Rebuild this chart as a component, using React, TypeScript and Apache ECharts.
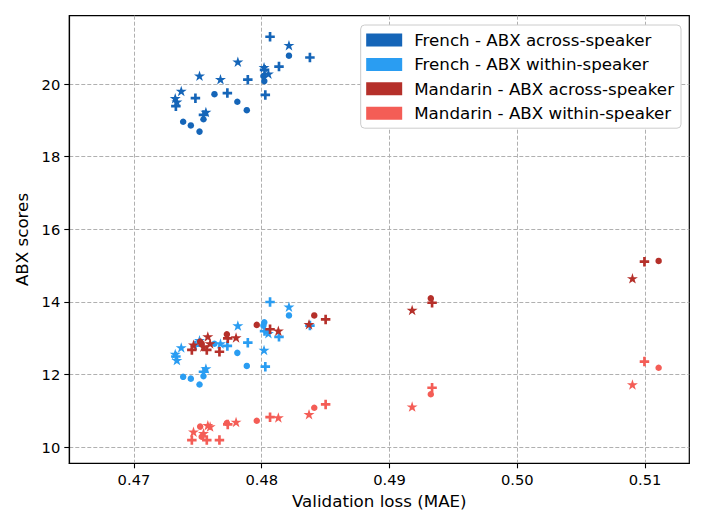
import React, { useEffect, useRef } from "react";
import * as echarts from "echarts";

const seriesNames = [
  "French - ABX across-speaker",
  "French - ABX within-speaker",
  "Mandarin - ABX across-speaker",
  "Mandarin - ABX within-speaker",
];
const seriesColors = ["#1565B8", "#2A9DF2", "#B5302A", "#F45D56"];

// French models: validation loss, marker shape (c = circle, s = star, p = plus), ABX scores
const frenchLoss = [
  0.47385, 0.47445, 0.47513, 0.47544, 0.4763, 0.47809, 0.47883, 0.48213, 0.4802, 0.48013,
  0.47323, 0.47336, 0.4737, 0.47513, 0.47563, 0.47677, 0.47813, 0.48018, 0.48052, 0.48213,
  0.47328, 0.47481, 0.47544, 0.47731, 0.47891, 0.48028, 0.48065, 0.48135, 0.48377, 0.48022,
];
const frenchShape = [
  "c", "c", "c", "c", "c", "c", "c", "c", "c", "c",
  "s", "s", "s", "s", "s", "s", "s", "s", "s", "s",
  "p", "p", "p", "p", "p", "p", "p", "p", "p", "p",
];
const frenchAcross = [
  18.96, 18.86, 18.69, 19.03, 19.72, 19.51, 19.28, 20.78, 20.08, 20.22,
  19.61, 19.51, 19.81, 20.23, 19.23, 20.13, 20.61, 20.46, 20.28, 21.07,
  19.39, 19.61, 19.15, 19.75, 20.12, 19.7, 21.3, 20.48, 20.73, 20.39,
];
const frenchWithin = [
  11.94, 11.89, 11.73, 11.96, 12.85, 12.6, 12.24, 13.63, 13.44, 13.35,
  12.57, 12.4, 12.75, 12.95, 12.17, 12.86, 13.35, 12.68, 13.14, 13.87,
  12.5, 12.8, 12.08, 12.79, 12.88, 12.22, 14.0, 13.04, 13.35, 13.2,
];

// Mandarin models
const mandarinLoss = [
  0.51106, 0.50995, 0.50901, 0.49323, 0.49333, 0.49177, 0.48411, 0.485, 0.4837, 0.47961,
  0.48065, 0.4813, 0.47799, 0.47727, 0.47734, 0.47669, 0.47578, 0.47596, 0.47466, 0.47544,
  0.4757, 0.47453, 0.47518, 0.4753,
];
const mandarinShape = [
  "c", "p", "s", "c", "p", "s", "c", "p", "s", "c",
  "p", "s", "s", "c", "p", "p", "s", "s", "s", "s",
  "p", "p", "c", "c",
];
const mandarinAcross = [
  15.13, 15.11, 14.65, 14.1, 13.98, 13.78, 13.63, 13.52, 13.39, 13.37,
  13.25, 13.21, 13.02, 13.11, 13.0, 12.63, 13.05, 12.86, 12.82, 12.77,
  12.68, 12.68, 12.91, 12.85,
];
const mandarinWithin = [
  12.19, 12.36, 11.73, 11.46, 11.64, 11.12, 11.09, 11.18, 10.91, 10.73,
  10.83, 10.82, 10.7, 10.67, 10.63, 10.2, 10.61, 10.57, 10.43, 10.39,
  10.2, 10.2, 10.57, 10.29,
];

const xTicks = [0.47, 0.48, 0.49, 0.5, 0.51];
const yTicks = [10, 12, 14, 16, 18, 20];

const STAR =
  "path://M0,-100L22.45,-30.9L95.11,-30.9L36.33,11.8L58.78,80.9L0,38.2L-58.78,80.9L-36.33,11.8L-95.11,-30.9L-22.45,-30.9Z";
const PLUS =
  "path://M-14,-50L14,-50L14,-14L50,-14L50,14L14,14L14,50L-14,50L-14,14L-50,14L-50,-14L-14,-14Z";

const symbolFor: Record<string, string> = { c: "circle", s: STAR, p: PLUS };
const sizeFor: Record<string, number | number[]> = { c: 6.5, s: [11, 10.5], p: 9.5 };

function buildData(loss: number[], shapes: string[], scores: number[]) {
  return loss.map((x, i) => ({
    value: [x, scores[i]],
    symbol: symbolFor[shapes[i]],
    symbolSize: sizeFor[shapes[i]],
  }));
}

const FONT = "DejaVu Sans";

export default function App() {
  const ref = useRef<HTMLDivElement>(null);
  useEffect(() => {
    if (!ref.current) return;
    const chart = echarts.init(ref.current, undefined, { renderer: "svg" });
    const datasets = [
      buildData(frenchLoss, frenchShape, frenchAcross),
      buildData(frenchLoss, frenchShape, frenchWithin),
      buildData(mandarinLoss, mandarinShape, mandarinAcross),
      buildData(mandarinLoss, mandarinShape, mandarinWithin),
    ];
    const splitLine = {
      show: true,
      lineStyle: { color: "#b0b0b0", width: 1, type: [4, 2] as number[] },
    };
    chart.setOption({
      animation: false,
      textStyle: { fontFamily: FONT },
      grid: {
        left: 69.3,
        top: 15.7,
        right: 16.7,
        bottom: 65.7,
        show: true,
        borderColor: "#000",
        borderWidth: 1.2,
        backgroundColor: "transparent",
      },
      legend: {
        orient: "vertical",
        right: 25,
        top: 25,
        data: seriesNames,
        icon: "rect",
        itemWidth: 36,
        itemHeight: 13,
        itemGap: 6.4,
        padding: [6, 7, 6, 5.5],
        backgroundColor: "#fff",
        borderColor: "#cccccc",
        borderWidth: 1,
        borderRadius: 4,
        textStyle: {
          fontFamily: FONT,
          fontSize: 16.7,
          color: "#000",
          lineHeight: 18,
          padding: [0, 0, 0, 7],
        },
        selectedMode: false,
      },
      xAxis: {
        type: "value",
        min: 0.46494,
        max: 0.51346,
        name: "Validation loss (MAE)",
        nameLocation: "middle",
        nameGap: 25,
        nameTextStyle: { fontFamily: FONT, fontSize: 16.7, color: "#000", verticalAlign: "top" },
        axisLine: { show: true, onZero: false, lineStyle: { color: "#000", width: 1.2 } },
        axisTick: { show: true, length: 5, lineStyle: { color: "#000", width: 1.1 }, customValues: xTicks },
        axisLabel: {
          fontFamily: FONT,
          fontSize: 14.7,
          color: "#000",
          margin: 9,
          customValues: xTicks,
          formatter: (v: number) => v.toFixed(2),
        },
        splitLine,
      },
      yAxis: {
        type: "value",
        min: 9.56,
        max: 21.88,
        name: "ABX scores",
        nameLocation: "middle",
        nameGap: 38,
        nameTextStyle: { fontFamily: FONT, fontSize: 16.7, color: "#000" },
        axisLine: { show: true, onZero: false, lineStyle: { color: "#000", width: 1.2 } },
        axisTick: { show: true, length: 5, lineStyle: { color: "#000", width: 1.1 }, customValues: yTicks },
        axisLabel: {
          fontFamily: FONT,
          fontSize: 14.7,
          color: "#000",
          margin: 9,
          customValues: yTicks,
        },
        splitLine,
      },
      series: datasets.map((data, i) => ({
        type: "scatter",
        name: seriesNames[i],
        data,
        itemStyle: { color: seriesColors[i], opacity: 1 },
        emphasis: { disabled: true },
        z: 2 + i,
      })),
    });
    return () => chart.dispose();
  }, []);
  return (
    <div
      ref={ref}
      style={{ position: "absolute", left: 0, top: 0, width: 706, height: 529 }}
    />
  );
}
